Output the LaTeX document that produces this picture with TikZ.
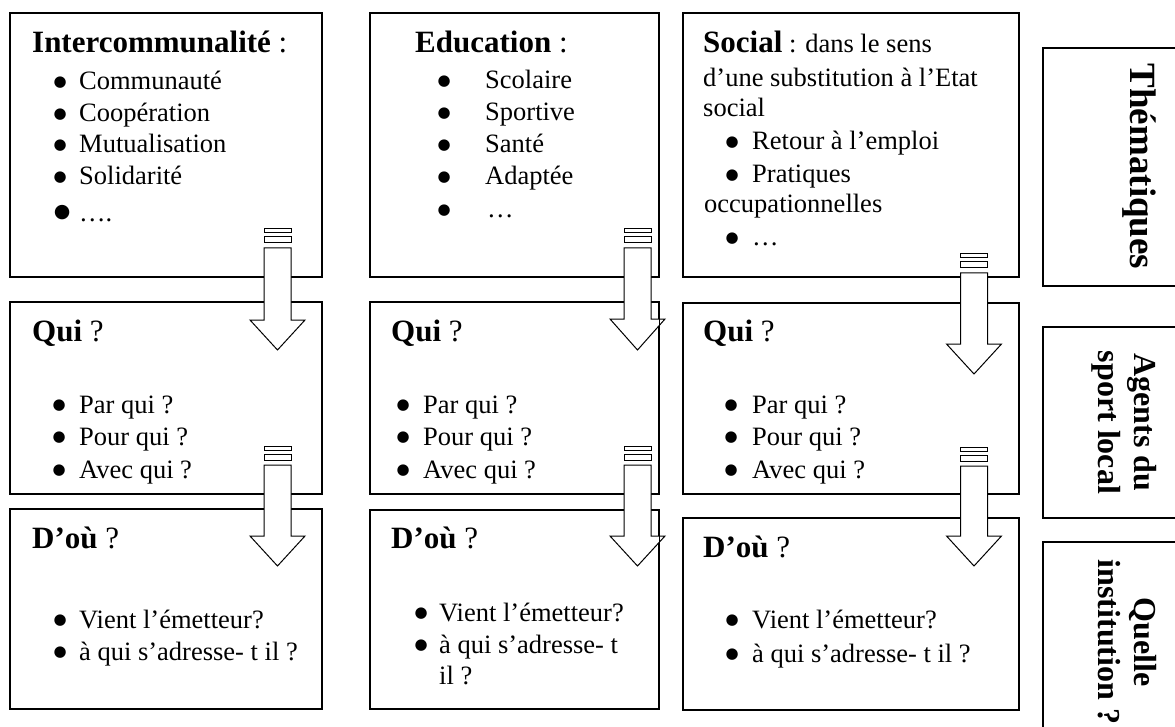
\documentclass[tikz,border=0pt]{standalone}
\usepackage{fontspec}
\setmainfont{Liberation Serif}
\newfontfamily\dejavu{DejaVu Sans}
\usetikzlibrary{fit}
\newcommand{\blkarrow}[4]{%
  \draw[arrowline] ({#1-13.5},{#2}) rectangle ({#1+13.5},{#2+4});
  \draw[arrowline] ({#1-13.5},{#2+8}) rectangle ({#1+13.5},{#2+14});
  \draw[arrowline] ({#1-13.5},{#2+19}) -- ({#1-13.5},{#3}) -- ({#1-27.5},{#3})
     -- ({#1},{#4}) -- ({#1+27.5},{#3}) -- ({#1+13.5},{#3}) -- ({#1+13.5},{#2+19}) -- cycle;
}
% bullet centred in a box of the given width (pt), its middle 7pt above the baseline
\newsavebox\bulbox
\newcommand{\bu}[1]{\makebox[#1pt][c]{\sbox\bulbox{\fontsize{15}{15}\dejavu ●}%
  \raisebox{\dimexpr 7pt-0.5\ht\bulbox+0.5\dp\bulbox\relax}{\usebox\bulbox}}}
\newcommand{\bigbu}[1]{\makebox[#1pt][c]{\sbox\bulbox{\fontsize{19}{19}\dejavu ●}%
  \raisebox{\dimexpr 9pt-0.5\ht\bulbox+0.5\dp\bulbox\relax}{\usebox\bulbox}}}
\begin{document}
\begin{tikzpicture}[x=1pt,y=-1pt,
  panel/.style={draw, line width=1.3pt, inner sep=0pt},
  arrowline/.style={draw, line width=1pt, fill=white, line join=miter},
  edge/.style={line width=1.3pt},
  ttl/.style={font=\fontsize{31}{36}\selectfont, anchor=base west, inner sep=0pt},
  txt/.style={font=\fontsize{26.5}{31}\selectfont, anchor=base west, inner sep=0pt},
  side/.style={font=\fontsize{32}{36}\selectfont\bfseries, align=center, rotate=-90, inner sep=0pt},
]
\useasboundingbox (0,0) rectangle (1175,727);
\fill[white] (0,0) rectangle (1175,727);

% panels
\node[panel, fit={(10,13) (322,277)}] (b11) {};
\node[panel, fit={(10,302) (322,494)}] (b12) {};
\node[panel, fit={(10,509) (322,709)}] (b13) {};
\node[panel, fit={(370,13) (659,277)}] (b21) {};
\node[panel, fit={(370,302) (659,494)}] (b22) {};
\node[panel, fit={(370,510) (659,709)}] (b23) {};
\node[panel, fit={(683,13) (1019,277)}] (b31) {};
\node[panel, fit={(683,303) (1019,494)}] (b32) {};
\node[panel, fit={(683,518) (1019,710)}] (b33) {};
\node[panel, fit={(1043,48) (1200,286)}] (r1) {};
\node[panel, fit={(1043,327) (1200,518)}] (r2) {};
\node[panel, fit={(1043,542) (1200,745)}] (r3) {};

% block arrows
\blkarrow{277.5}{229}{320}{350}
\blkarrow{277.5}{446}{536}{566}
\blkarrow{637.5}{229}{319}{350}
\blkarrow{637.5}{446}{536}{566}
\blkarrow{974}{254}{344}{374}
\blkarrow{974}{447}{536}{566}

% right edges of the middle column drawn over the arrow heads
\draw[edge] (b21.north east) -- (b21.south east);
\draw[edge] (b22.north east) -- (b22.south east);
\draw[edge] (b23.north east) -- (b23.south east);

% column 1, row 1
\node[ttl] (t11) at (32,53) {\textbf{Intercommunalité} :};
\node[txt] (i11a) at (41,90)  {\bu{38}Communauté};
\node[txt] (i11b) at (41,122) {\bu{38}Coopération};
\node[txt] (i11c) at (41,153) {\bu{38}Mutualisation};
\node[txt] (i11d) at (41,185) {\bu{38}Solidarité};
\node[txt] (i11e) at (45,222) {\bigbu{34}….};

% column 2, row 1
\node[ttl] (t21) at (415,53) {\textbf{Education} :};
\node[txt] (i21a) at (403,89)  {\bu{82}Scolaire};
\node[txt] (i21b) at (403,121) {\bu{82}Sportive};
\node[txt] (i21c) at (403,153) {\bu{82}Santé};
\node[txt] (i21d) at (403,185) {\bu{82}Adaptée};
\node[txt] (i21e) at (401,218) {\bu{86}…};

% column 3, row 1
\node[ttl] (t31) at (703,53) {\textbf{Social}\fontsize{26.5}{31}\selectfont{} : dans le sens};
\node[txt] (l31a) at (703,87) {d’une substitution à l’Etat};
\node[txt] (l31b) at (703,117) {social};
\node[txt] (i31a) at (712,150) {\bu{40}Retour à l’emploi};
\node[txt] (i31b) at (712,183) {\bu{40}Pratiques};
\node[txt] (l31c) at (704,213) {occupationnelles};
\node[txt] (i31c) at (712,246) {\bu{40}…};

% row 2
\node[ttl] (t12) at (32,341) {\textbf{Qui} ?};
\node[txt] (i12a) at (39,413) {\bu{40}Par qui ?};
\node[txt] (i12b) at (39,445) {\bu{40}Pour qui ?};
\node[txt] (i12c) at (39,478) {\bu{40}Avec qui ?};

\node[ttl] (t22) at (391,341) {\textbf{Qui} ?};
\node[txt] (i22a) at (383,413) {\bu{40}Par qui ?};
\node[txt] (i22b) at (383,445) {\bu{40}Pour qui ?};
\node[txt] (i22c) at (383,478) {\bu{40}Avec qui ?};

\node[ttl] (t32) at (703,341) {\textbf{Qui} ?};
\node[txt] (i32a) at (710,413) {\bu{42}Par qui ?};
\node[txt] (i32b) at (710,445) {\bu{42}Pour qui ?};
\node[txt] (i32c) at (710,478) {\bu{42}Avec qui ?};

% row 3
\node[ttl] (t13) at (32,548) {\textbf{D’où} ?};
\node[txt] (i13a) at (41,628) {\bu{38}Vient l’émetteur?};
\node[txt] (i13b) at (41,660) {\bu{38}à qui s’adresse- t il ?};

\node[ttl] (t23) at (391,548) {\textbf{D’où} ?};
\node[txt] (i23a) at (403,621) {\bu{36}Vient l’émetteur?};
\node[txt] (i23b) at (403,653) {\bu{36}à qui s’adresse- t};
\node[txt] (i23c) at (439,684) {il ?};

\node[ttl] (t33) at (703,557) {\textbf{D’où} ?};
\node[txt] (i33a) at (712,628) {\bu{40}Vient l’émetteur?};
\node[txt] (i33b) at (712,662) {\bu{40}à qui s’adresse- t il ?};

% side labels
\node[font=\fontsize{37}{40}\selectfont\bfseries, rotate=-90, anchor=base, inner sep=0pt] (s1) at (1130,166.5) {Thématiques};
\node[side] (s2) at (1124.5,422.5) {Agents du\\sport local};
\node[side] (s3) at (1127,642) {Quelle\\institution ?};
\end{tikzpicture}
\end{document}
